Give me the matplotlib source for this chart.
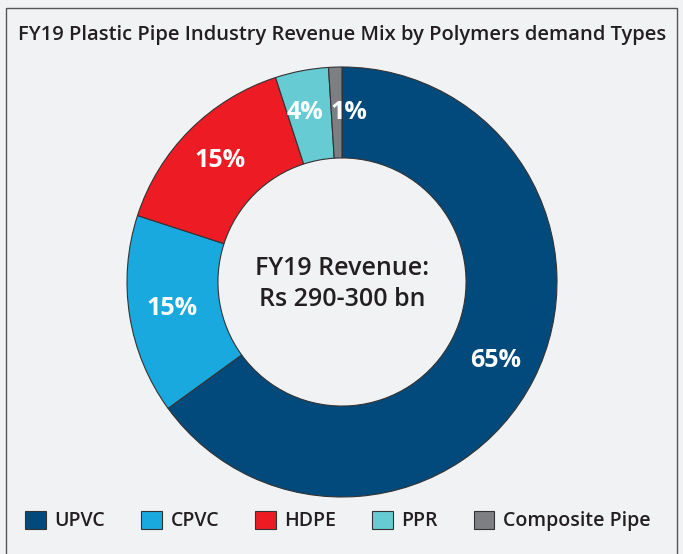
import matplotlib.pyplot as plt
from matplotlib.patches import Rectangle, Patch

# données
categories = ['UPVC', 'CPVC', 'HDPE', 'PPR', 'Composite Pipe']
parts = [65, 15, 15, 4, 1]
couleurs = ['#024a7b', '#1aa9df', '#ed1c24', '#66cbd3', '#7e7f83']
titre = 'FY19 Plastic Pipe Industry Revenue Mix by Polymers demand Types'
centre = 'FY19 Revenue:\nRs 290-300 bn'

plt.rcParams['font.family'] = ['Open Sans', 'DejaVu Sans']
fond = '#f1f2f4'
texte = '#231f20'

W, H = 683, 554
fig = plt.figure(figsize=(W / 100, H / 100), dpi=100, facecolor=fond)

# cadre
fig.patches.append(Rectangle((6 / W, -0.01), (677 - 6) / W, 1 - 8 / H + 0.01,
                             transform=fig.transFigure, fill=False,
                             edgecolor='#555555', linewidth=1))

fig.text(342 / W, 1 - 35 / H, titre, ha='center', va='center',
         fontsize=14.5, fontweight='semibold', color=texte)

# anneau
cx, cy, r = 342, H - 282, 215
ax = fig.add_axes([(cx - r) / W, (cy - r) / H, 2 * r / W, 2 * r / H])
ax.set_facecolor(fond)
wedges, _, autotexts = ax.pie(parts, colors=couleurs, startangle=90, counterclock=False,
                              autopct='%d%%', pctdistance=0.8,
                              wedgeprops=dict(width=0.423, edgecolor='#333333', linewidth=0.8),
                              textprops=dict(color='white', fontsize=18, fontweight='bold'))
ax.set_xlim(-1, 1)
ax.set_ylim(-1, 1)
ax.set_aspect('equal')
ax.axis('off')

# petits décalages pour les deux petites parts
autotexts[3].set_position((-0.17, 0.79))
autotexts[4].set_position((0.03, 0.79))

ax.text(0, -0.01, centre, ha='center', va='center', fontsize=18,
        fontweight='semibold', color=texte, linespacing=1.35)

handles = [Patch(facecolor=c, edgecolor='#333333', linewidth=0.8) for c in couleurs]
fig.legend(handles, categories, loc='center', bbox_to_anchor=(338 / W, 1 - 521 / H),
           ncol=5, frameon=False, handlelength=1.05, handleheight=1.05,
           handletextpad=0.45, columnspacing=1.85,
           prop=dict(size=14, weight='semibold'), labelcolor=texte)

fig.savefig('out.png', dpi=100, facecolor=fond)
